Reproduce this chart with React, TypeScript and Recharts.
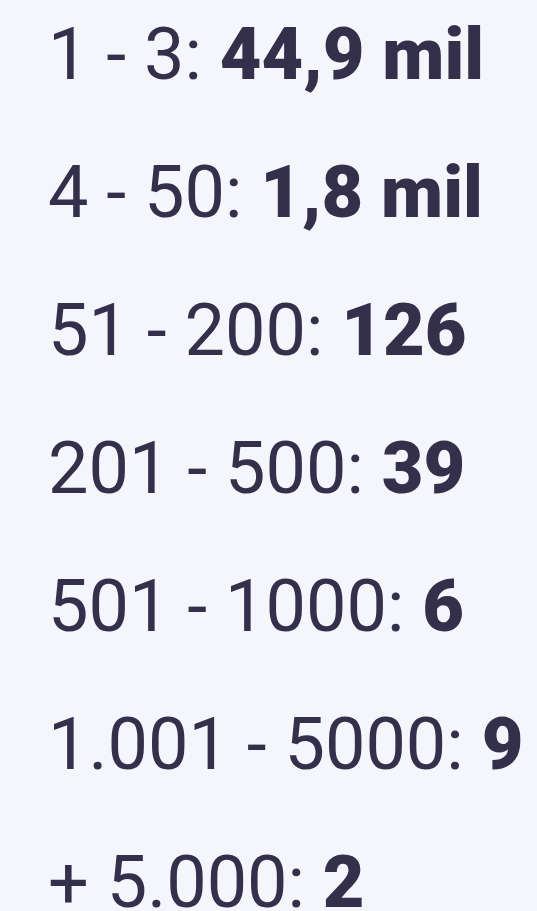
import { BarChart, Bar, XAxis, YAxis } from "recharts";

const ranges = ["1 - 3", "4 - 50", "51 - 200", "201 - 500", "501 - 1000", "1.001 - 5000", "+ 5.000"];
const counts = [44900, 1800, 126, 39, 6, 9, 2];
const countLabels = ["44,9 mil", "1,8 mil", "126", "39", "6", "9", "2"];

const data = ranges.map((r, i) => ({ range: r, count: counts[i], label: countLabels[i] }));

const INK = "#34304c";
const FONT = "Roboto, 'Noto Sans', sans-serif";

function RowLabel(props: any) {
  const { y, height, payload } = props;
  const cy = y + height / 2;
  return (
    <text x={48} y={cy + 26} fill={INK} fontFamily={FONT} fontSize={72}>
      <tspan fontWeight={400}>{payload.range}: </tspan>
      <tspan fontWeight={900}>{payload.label}</tspan>
    </text>
  );
}

export default function App() {
  return (
    <div
      style={{
        position: "fixed",
        inset: 0,
        background: "#f5f6fb",
        overflow: "hidden",
      }}
    >
      <div style={{ position: "absolute", top: -16, left: 0 }}>
        <BarChart
          width={537}
          height={966}
          data={data}
          layout="vertical"
          margin={{ top: 0, right: 0, bottom: 0, left: 0 }}
        >
          <XAxis type="number" hide domain={[0, "dataMax"]} />
          <YAxis type="category" dataKey="range" hide />
          <Bar
            dataKey="count"
            fill="transparent"
            isAnimationActive={false}
            shape={RowLabel}
          />
        </BarChart>
      </div>
    </div>
  );
}
